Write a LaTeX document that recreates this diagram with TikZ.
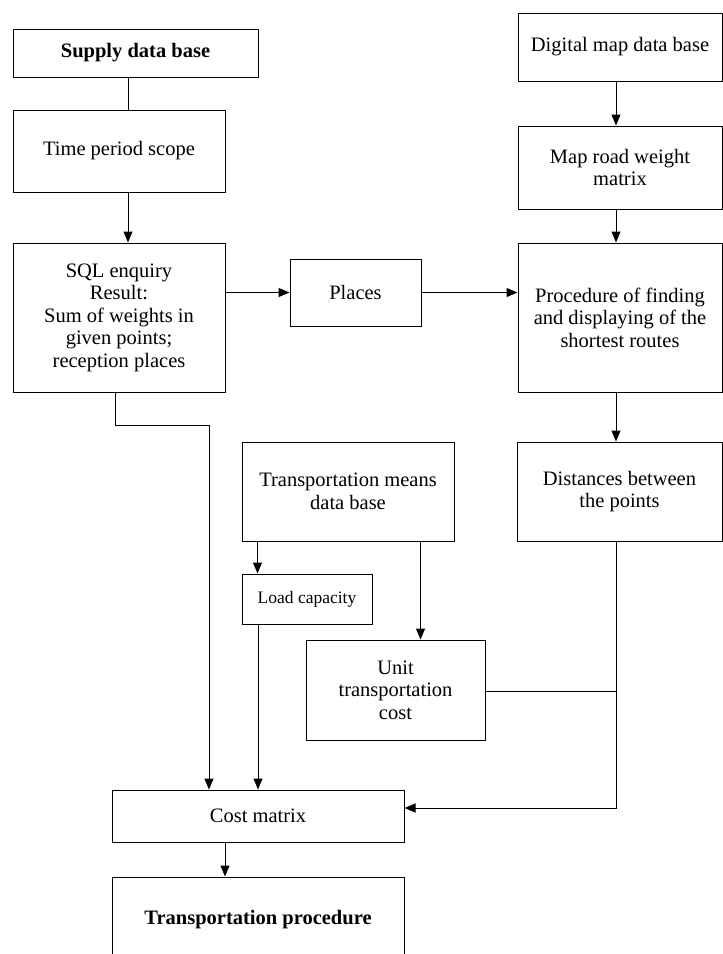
\documentclass[tikz,border=0pt]{standalone}
\usepackage{fontspec}
\setmainfont{Liberation Serif}
\usetikzlibrary{arrows.meta,calc}
\begin{document}
\begin{tikzpicture}[x=1pt,y=-1pt,
  box/.style={draw,line width=1pt,rectangle,align=center,inner sep=0pt,
    font=\fontsize{20.5}{22.5}\selectfont},
  conn/.style={line width=1pt},
  arr/.style={line width=1pt,-{Triangle[length=11pt,width=9pt]}}]
\useasboundingbox (0,0) rectangle (723,954);
\clip (0,0) rectangle (723,954);
\fill[white] (0,0) rectangle (723,954);
% left column
\node[box,minimum width=245,minimum height=48,font=\fontsize{20.5}{22.5}\selectfont\bfseries] (supply) at (135.5,53) {Supply data base};
\node[box,minimum width=212,minimum height=82] (time) at (119,151) {Time period scope};
\node[box,minimum width=212,minimum height=149] (sql) at (119,317.5) {SQL enquiry\\Result:\\Sum of weights in\\given points;\\reception places};
\node[box,minimum width=131,minimum height=67] (places) at (355.5,292.5) {Places};
% right column
\node[box,minimum width=204,minimum height=68] (digital) at (620,47) {Digital map data base};
\node[box,minimum width=204,minimum height=83] (maproad) at (620,167.5) {Map road weight\\matrix};
\node[box,minimum width=204,minimum height=149] (proc) at (620,317.5) {Procedure of finding\\and displaying of the\\shortest routes};
\node[box,minimum width=205,minimum height=99] (dist) at (619.5,491.5) {Distances between\\the points};
% middle
\node[box,minimum width=212,minimum height=99] (tmeans) at (348,491.5) {Transportation means\\data base};
\node[box,minimum width=130,minimum height=50,font=\fontsize{17.5}{20}\selectfont] (load) at (307,599) {Load capacity};
\node[box,minimum width=179,minimum height=100] (unit) at (395.5,690) {Unit\\transportation\\cost};
% bottom
\node[box,minimum width=292,minimum height=52] (cost) at (258,816) {Cost matrix};
\node[box,minimum width=292,minimum height=86,font=\fontsize{20.5}{22.5}\selectfont\bfseries] (tproc) at (258,920) {Transportation procedure};
% connectors
\draw[conn] ([xshift=9]time.north) -- ([xshift=9]time.north |- supply.south);
\draw[arr] ([xshift=9]time.south) -- ([xshift=9]sql.north);
\draw[arr] (places.west -| sql.east) -- (places.west);
\draw[arr] (places.east) -- (places.east -| proc.west);
\draw[arr] ([xshift=-4]digital.south) -- ([xshift=-4]maproad.north);
\draw[arr] ([xshift=-4]maproad.south) -- ([xshift=-4]proc.north);
\draw[arr] ([xshift=-4]proc.south) -- ([xshift=-3.5]dist.north);
\coordinate (c1) at ([xshift=-49]cost.north);
\draw[arr] ([xshift=-4]sql.south) -- ++(0,33) -| (c1);
\draw[arr] ([xshift=16]tmeans.south west) -- ([xshift=16]tmeans.south west |- load.north);
\draw[arr] (load.south -| cost.north) -- (cost.north);
\draw[arr] ([xshift=-34]tmeans.south east) -- ([xshift=-34]tmeans.south east |- unit.north);
\coordinate (c2) at ([xshift=-3.5]dist.south);
\draw[arr] (c2) |- ([yshift=8]cost.east);
\draw[conn] ([yshift=-1]unit.east) -- ([yshift=-1]unit.east -| c2);
\draw[arr] ([xshift=-33]cost.south) -- ([xshift=-33]tproc.north);
\end{tikzpicture}
\end{document}
